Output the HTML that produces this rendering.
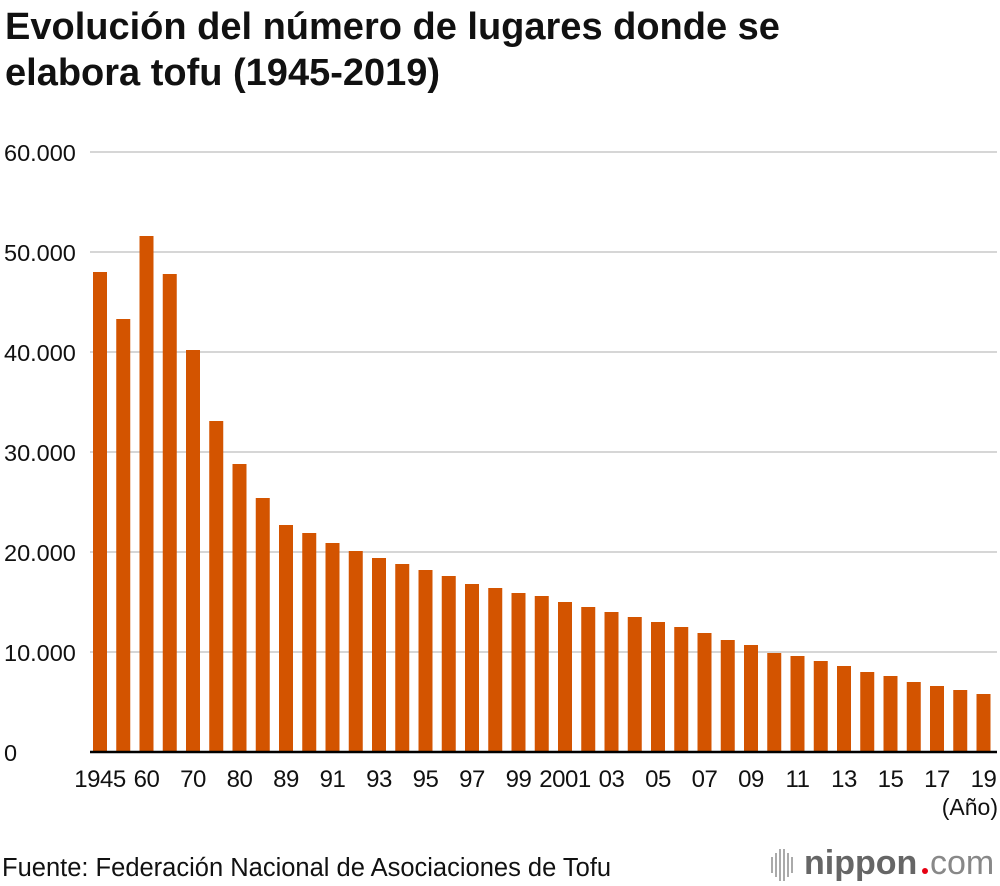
<!DOCTYPE html>
<html><head><meta charset="utf-8">
<style>
body{margin:0;background:#fff;width:1000px;height:886px;overflow:hidden;font-family:"Liberation Sans",Arial,sans-serif;}
h1{position:absolute;left:5px;top:4px;margin:0;font-size:38px;line-height:46px;font-weight:bold;color:#111;letter-spacing:0px;white-space:nowrap;}
</style></head><body>
<h1>Evolución del número de lugares donde se<br>elabora tofu (1945-2019)</h1>
<svg id="chart" width="1000" height="886" style="position:absolute;left:0;top:0" font-family="Liberation Sans, Arial, sans-serif"></svg>
<script>
const categories=[1945,1950,1960,1965,1970,1975,1980,1985,1989,1990,1991,1992,1993,1994,1995,1996,1997,1998,1999,2000,2001,2002,2003,2004,2005,2006,2007,2008,2009,2010,2011,2012,2013,2014,2015,2016,2017,2018,2019];
const values=[48000,43300,51600,47800,40200,33100,28800,25400,22700,21900,20900,20100,19400,18800,18200,17600,16800,16400,15900,15600,15000,14500,14000,13500,13000,12500,11900,11200,10700,9900,9600,9100,8600,8000,7600,7000,6600,6200,5800];
const xLabels=["1945","","60","","70","","80","","89","","91","","93","","95","","97","","99","","2001","","03","","05","","07","","09","","11","","13","","15","","17","","19"];
const yTicks=[0,10000,20000,30000,40000,50000,60000];
const yTickLabels=["0","10.000","20.000","30.000","40.000","50.000","60.000"];
const svg=document.getElementById('chart');
const NS='http://www.w3.org/2000/svg';
const y=v=>752-v/100;
const x=i=>100+i*23.25;
function mk(t,a,txt){const e=document.createElementNS(NS,t);for(const k in a)e.setAttribute(k,a[k]);if(txt!==undefined)e.textContent=txt;svg.appendChild(e);return e;}
yTicks.forEach((v,i)=>{
 if(v>0){const g=mk('line',{x1:90,x2:997,y1:y(v),y2:y(v),stroke:'#c8c8c8','stroke-width':1.5});
 
 }
 const t=mk('text',{x:4,y:y(v)+9,'font-size':23.5,fill:'#111'},yTickLabels[i]);
 
 
});
values.forEach((v,i)=>{
 const r=mk('rect',{x:x(i)-7,y:y(v),width:14,height:752-y(v),fill:'#d35400'});
 
 
 if(xLabels[i]){const t=mk('text',{x:x(i),y:787,'font-size':24,fill:'#111','text-anchor':'middle','letter-spacing':'-0.5'},xLabels[i]);
 
 }
});
const ax=mk('line',{x1:90,x2:997,y1:752,y2:752,stroke:'#000','stroke-width':2.5});


const u=mk('text',{x:998,y:815,'font-size':23,fill:'#111','text-anchor':'end'},'(Año)');


const s=mk('text',{x:2,y:876,'font-size':25.5,fill:'#111'},'Fuente: Federación Nacional de Asociaciones de Tofu');


const hs=[8,12,16,16,12,8];
[0,4,8,12,16,20].forEach((d,i)=>{const l=mk('line',{x1:772+d,x2:772+d,y1:865-hs[i],y2:865+hs[i],stroke:'#aaa','stroke-width':2});

});
const lg=mk('text',{x:804,y:874,'font-size':34,fill:'#666','font-weight':'bold'},'nippon');


const dot=mk('circle',{cx:925,cy:871,r:3,fill:'#e60012'});


const cm=mk('text',{x:930,y:874,'font-size':34,fill:'#888'},'com');


</script>
</body></html>
